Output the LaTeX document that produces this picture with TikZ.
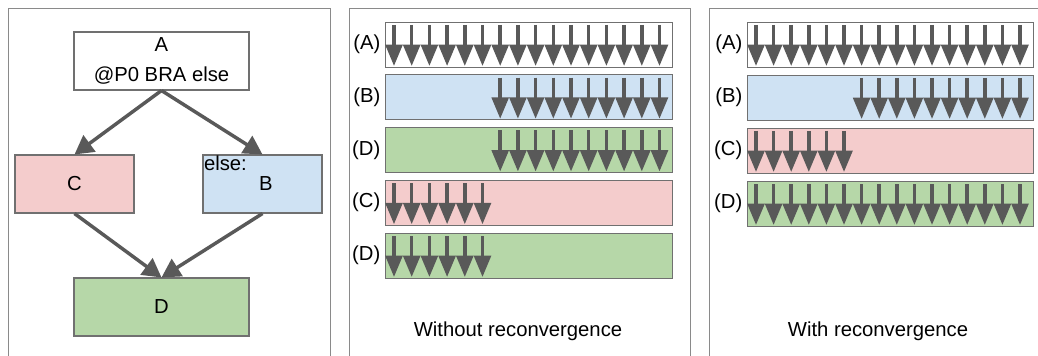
\documentclass[tikz,border=0pt]{standalone}
\usepackage{fontspec}
\setmainfont{Liberation Sans}
\usetikzlibrary{arrows.meta}
\definecolor{pinkfill}{HTML}{F4CCCC}
\definecolor{bluefill}{HTML}{CFE2F3}
\definecolor{greenfill}{HTML}{B6D7A8}
\definecolor{arrowgray}{HTML}{595959}
\definecolor{linegray}{HTML}{707070}
\definecolor{framegray}{HTML}{8A8A8A}

\begin{document}
\begin{tikzpicture}[x=0.75pt,y=-0.75pt,font=\fontsize{15.2}{23}\selectfont,
    block/.style={draw=linegray,line width=0.8pt,minimum height=43.5pt,inner sep=0pt},
    flow/.style={draw=arrowgray,line width=2.6pt,-{Triangle[width=15pt,length=14pt]}},
    lane/.style={draw=arrowgray,line width=2.6pt,-{Triangle[width=12.5pt,length=16pt]}}]
    \useasboundingbox (0,0) rectangle (1038,356);
    % panel frames
    \draw[framegray] (8,360) -- (8,8) -- (330,8) -- (330,360);
    \draw[framegray] (349,360) -- (349,8) -- (690,8) -- (690,360);
    \draw[framegray] (709,360) -- (709,8) -- (1040,8);
    % control flow graph
    \node[block,minimum width=131.25pt,align=center] (A) at (161.5,61) {A\\@P0 BRA else};
    \node[block,minimum width=89.25pt,fill=pinkfill] (C) at (74.5,184) {C};
    \node[block,minimum width=89.25pt,fill=bluefill] (B) at (262.5,184) {\hspace{5pt}B};
    \node[anchor=north west,inner sep=1pt] (Belse) at (B.north west) {else:};
    \node[block,minimum width=131.25pt,fill=greenfill] (D) at (161.5,307) {D};
    \draw[flow] (A.south) -- (C.north);
    \draw[flow] (A.south) -- (B.north);
    \draw[flow] (C.south) -- (D.north);
    \draw[flow] (B.south) -- (D.north);
    % without reconvergence
    \foreach \lbl/\clr/\first/\last [count=\i from 0] in {A/white/0/15,B/bluefill/6/15,D/greenfill/6/15,C/pinkfill/0/5,D/greenfill/0/5}{
        \draw[linegray,fill=\clr] (385,22+52.75*\i) rectangle (672,67+52.75*\i);
        \node[left] (wo\i) at (385,44.5+52.75*\i) {(\lbl)};
        \foreach \k in {\first,...,\last}
            \draw[lane] (394+17.7*\k,25+52.75*\i) -- (394+17.7*\k,66+52.75*\i);
    }
    \node[anchor=base] (without) at (518,336) {Without reconvergence};
    % with reconvergence
    \foreach \lbl/\clr/\first/\last [count=\i from 0] in {A/white/0/15,B/bluefill/6/15,C/pinkfill/0/5,D/greenfill/0/15}{
        \draw[linegray,fill=\clr] (747,22+53*\i) rectangle (1033,67+53*\i);
        \node[left] (wi\i) at (747,44.5+53*\i) {(\lbl)};
        \foreach \k in {\first,...,\last}
            \draw[lane] (756+17.6*\k,25+53*\i) -- (756+17.6*\k,66+53*\i);
    }
    \node[anchor=base] (with) at (878,336) {With reconvergence};
\end{tikzpicture}
\end{document}
